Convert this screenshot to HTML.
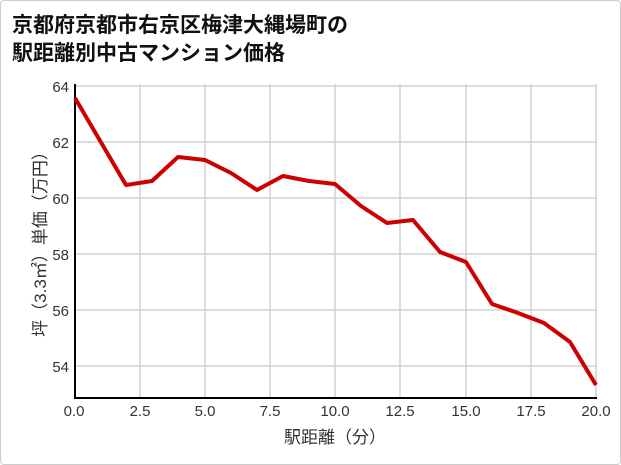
<!DOCTYPE html><html><head><meta charset="utf-8"><style>
body{margin:0;background:#fff}
.f{position:absolute;left:0;top:0;width:619px;height:463px;border:1px solid #ccc;border-radius:4px}
</style></head><body><div class="f"></div>
<svg width="621" height="465" style="position:absolute;left:0;top:0" font-family="'Liberation Sans','Noto Sans CJK JP',sans-serif">
<text x="12" y="32" font-size="21" font-weight="bold" fill="#111">京都府京都市右京区梅津大縄場町の</text>
<text x="12" y="60" font-size="21" font-weight="bold" fill="#111">駅距離別中古マンション価格</text>
<g stroke="#d0d0d0" stroke-width="1.5">
<line x1="74" x2="596" y1="86" y2="86"/><line x1="74" x2="596" y1="142" y2="142"/><line x1="74" x2="596" y1="198" y2="198"/><line x1="74" x2="596" y1="254" y2="254"/><line x1="74" x2="596" y1="310" y2="310"/><line x1="74" x2="596" y1="366" y2="366"/>
<line y1="84" y2="398" x1="140" x2="140"/><line y1="84" y2="398" x1="205" x2="205"/><line y1="84" y2="398" x1="270" x2="270"/><line y1="84" y2="398" x1="335" x2="335"/><line y1="84" y2="398" x1="400" x2="400"/><line y1="84" y2="398" x1="466" x2="466"/><line y1="84" y2="398" x1="531" x2="531"/><line y1="84" y2="398" x1="596" x2="596"/>
</g>
<line x1="75" x2="75" y1="84" y2="399" stroke="#000" stroke-width="2"/>
<line x1="74" x2="597" y1="398" y2="398" stroke="#000" stroke-width="2"/>
<g font-size="15" fill="#333" text-anchor="end">
<text x="69" y="92">64</text><text x="69" y="148">62</text><text x="69" y="204">60</text><text x="69" y="260">58</text><text x="69" y="316">56</text><text x="69" y="372">54</text></g>
<g font-size="15" fill="#333" text-anchor="middle">
<text x="74" y="416">0.0</text><text x="140" y="416">2.5</text><text x="205" y="416">5.0</text><text x="270" y="416">7.5</text><text x="335" y="416">10.0</text><text x="400" y="416">12.5</text><text x="466" y="416">15.0</text><text x="531" y="416">17.5</text><text x="596" y="416">20.0</text></g>
<text x="335" y="443" font-size="17" fill="#333" text-anchor="middle">駅距離（分）</text>
<text transform="translate(46,240) rotate(-90)" font-size="17" fill="#333" text-anchor="middle">坪（3.3㎡）単価（万円）</text>
<polyline fill="none" stroke="#cc0000" stroke-width="4" stroke-linejoin="round" points="75,98 126,185 152,181 178,157 205,160 231,173 257,190 283,176 309,181 335,184 361,206 387,223 413,220 440,252 466,262 492,304 518,313 544,323 570,342 596,385"/>
</svg></body></html>
